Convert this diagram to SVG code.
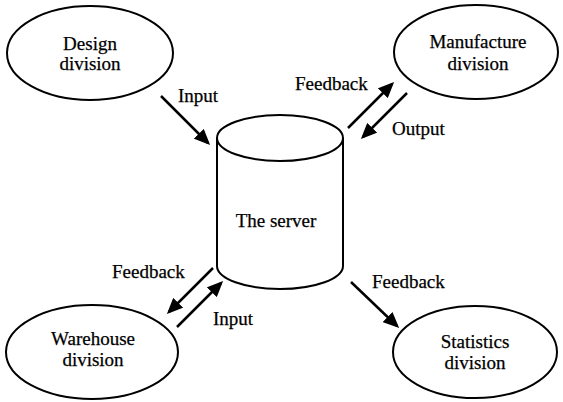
<svg xmlns="http://www.w3.org/2000/svg" width="563" height="402" viewBox="0 0 563 402">
  <style>
    .shape { fill: #fff; stroke: #000; stroke-width: 2; }
    .link { fill: none; stroke: #000; stroke-width: 2.5; marker-end: url(#arrow); }
    text { font-family: "Liberation Serif", "Times New Roman", serif; font-size: 19px; fill: #000; stroke: #000; stroke-width: 0.25; }
    .mid { text-anchor: middle; }
  </style>
  <defs>
    <marker id="arrow" viewBox="0 0 16 14" refX="13" refY="7" markerWidth="16" markerHeight="14" markerUnits="userSpaceOnUse" orient="auto">
      <path d="M0,0 L16,7 L0,14 z" fill="#000"/>
    </marker>
  </defs>
  <rect width="563" height="402" fill="#fff"/>

  <g id="design">
    <ellipse class="shape" cx="90" cy="53" rx="83" ry="47"/>
    <text class="mid" x="90" y="50">Design</text>
    <text class="mid" x="90" y="70">division</text>
  </g>

  <g id="manufacture">
    <ellipse class="shape" cx="476" cy="52" rx="82" ry="47"/>
    <text class="mid" x="478" y="48">Manufacture</text>
    <text class="mid" x="478" y="70">division</text>
  </g>

  <g id="warehouse">
    <ellipse class="shape" cx="92" cy="352" rx="86" ry="47"/>
    <text class="mid" x="93" y="345">Warehouse</text>
    <text class="mid" x="93" y="366">division</text>
  </g>

  <g id="statistics">
    <ellipse class="shape" cx="475" cy="352" rx="82" ry="46"/>
    <text class="mid" x="475" y="348">Statistics</text>
    <text class="mid" x="475" y="369">division</text>
  </g>

  <g id="server">
    <path class="shape" d="M217,138 L217,266 A63,23 0 0 0 343,266 L343,138"/>
    <ellipse class="shape" cx="280" cy="138" rx="63" ry="23"/>
    <text class="mid" x="276" y="227">The server</text>
  </g>

  <g id="connectors">
    <line class="link" x1="161" y1="96" x2="208" y2="143"/>
    <line class="link" x1="348" y1="128" x2="392" y2="84"/>
    <line class="link" x1="407" y1="93" x2="363" y2="137"/>
    <line class="link" x1="213" y1="268" x2="169" y2="312"/>
    <line class="link" x1="177" y1="327" x2="221" y2="283"/>
    <line class="link" x1="351" y1="282" x2="397" y2="326"/>
    <text x="178" y="102">Input</text>
    <text x="295" y="90">Feedback</text>
    <text x="392" y="135">Output</text>
    <text x="112" y="278">Feedback</text>
    <text x="213" y="325">Input</text>
    <text x="372" y="288">Feedback</text>
  </g>
</svg>
